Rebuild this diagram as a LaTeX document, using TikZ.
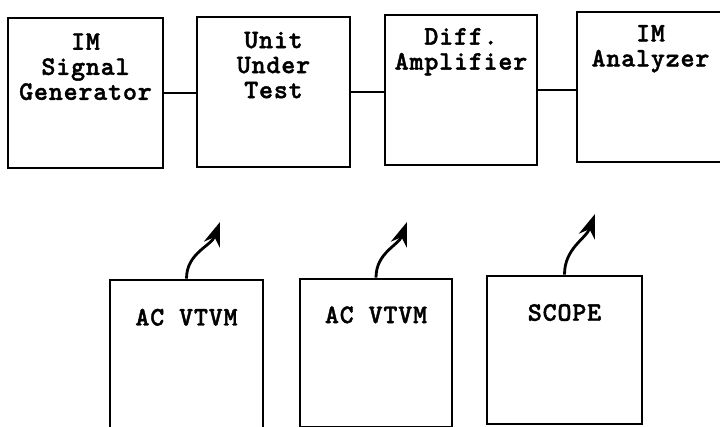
\documentclass[tikz,border=0pt]{standalone}
\usepackage{fontspec}
\newfontfamily\typer[LetterSpace=3,FakeBold=1.5]{lmmonolt10-bold.otf}
\usetikzlibrary{arrows.meta}

\begin{document}
\begin{tikzpicture}[line width=2pt]

  \tikzset{
    blk/.style  = {draw, line width=2pt, inner sep=0pt},
    lbl/.style  = {font=\typer\fontsize{19}{17.8}\selectfont,
                   align=center, inner sep=0pt, anchor=north},
    lead/.style = {line width=2pt, -{Stealth[length=17pt,width=12pt]}},
  }

  % ---- frame of the page ------------------------------------------------
  \useasboundingbox (0,0) rectangle (18,-10.675);
  \clip (0,0) rectangle (18,-10.675);

  % ---- signal chain, top row ---------------------------------------------
  \node[blk, minimum width=3.875cm, minimum height=3.75cm,
        label={[lbl,yshift=-11pt]north:{IM\\Signal\\Generator}}]
    (sigGen) at (2.1375,-2.325) {};
  \node[blk, minimum width=3.825cm, minimum height=3.75cm,
        label={[lbl,yshift=-10.5pt]north:{Unit\\Under\\Test}}]
    (uut) at (6.8375,-2.3) {};
  \node[blk, minimum width=3.8cm, minimum height=3.75cm,
        label={[lbl,yshift=-9.3pt]north:{Diff.\\Amplifier}}]
    (diffAmp) at (11.525,-2.25) {};
  \node[blk, minimum width=3.675cm, minimum height=3.75cm,
        label={[lbl,yshift=-9.3pt]north:{IM\\Analyzer}}]
    (imAna) at (16.2625,-2.175) {};

  \draw (sigGen.east)  -- (sigGen.east -| uut.west);
  \draw (uut.east)     -- (uut.east -| diffAmp.west);
  \draw (diffAmp.east) -- (diffAmp.east -| imAna.west);

  % ---- meters, bottom row ------------------------------------------------
  \node[blk, minimum width=3.825cm, minimum height=3.8cm,
        label={[lbl,yshift=-20.5pt]north:{AC VTVM}}]
    (vtvmA) at (4.6625,-8.9) {};
  \node[blk, minimum width=3.8cm, minimum height=3.7cm,
        label={[lbl,yshift=-19.5pt]north:{AC VTVM}}]
    (vtvmB) at (9.4,-8.825) {};
  \node[blk, minimum width=3.875cm, minimum height=3.7cm,
        label={[lbl,yshift=-20pt]north:{SCOPE}}]
    (scope) at (14.1125,-8.75) {};

  % free ends of the probe leads
  \coordinate (tipA) at (5.5,-5.55);
  \coordinate (tipB) at (10.175,-5.55);
  \coordinate (tipC) at (14.875,-5.35);

  \draw[lead] (vtvmA.north) to[out=90,in=-110] (tipA);
  \draw[lead] (vtvmB.north) to[out=90,in=-110] (tipB);
  \draw[lead] (scope.north) to[out=90,in=-110] (tipC);

\end{tikzpicture}
\end{document}
